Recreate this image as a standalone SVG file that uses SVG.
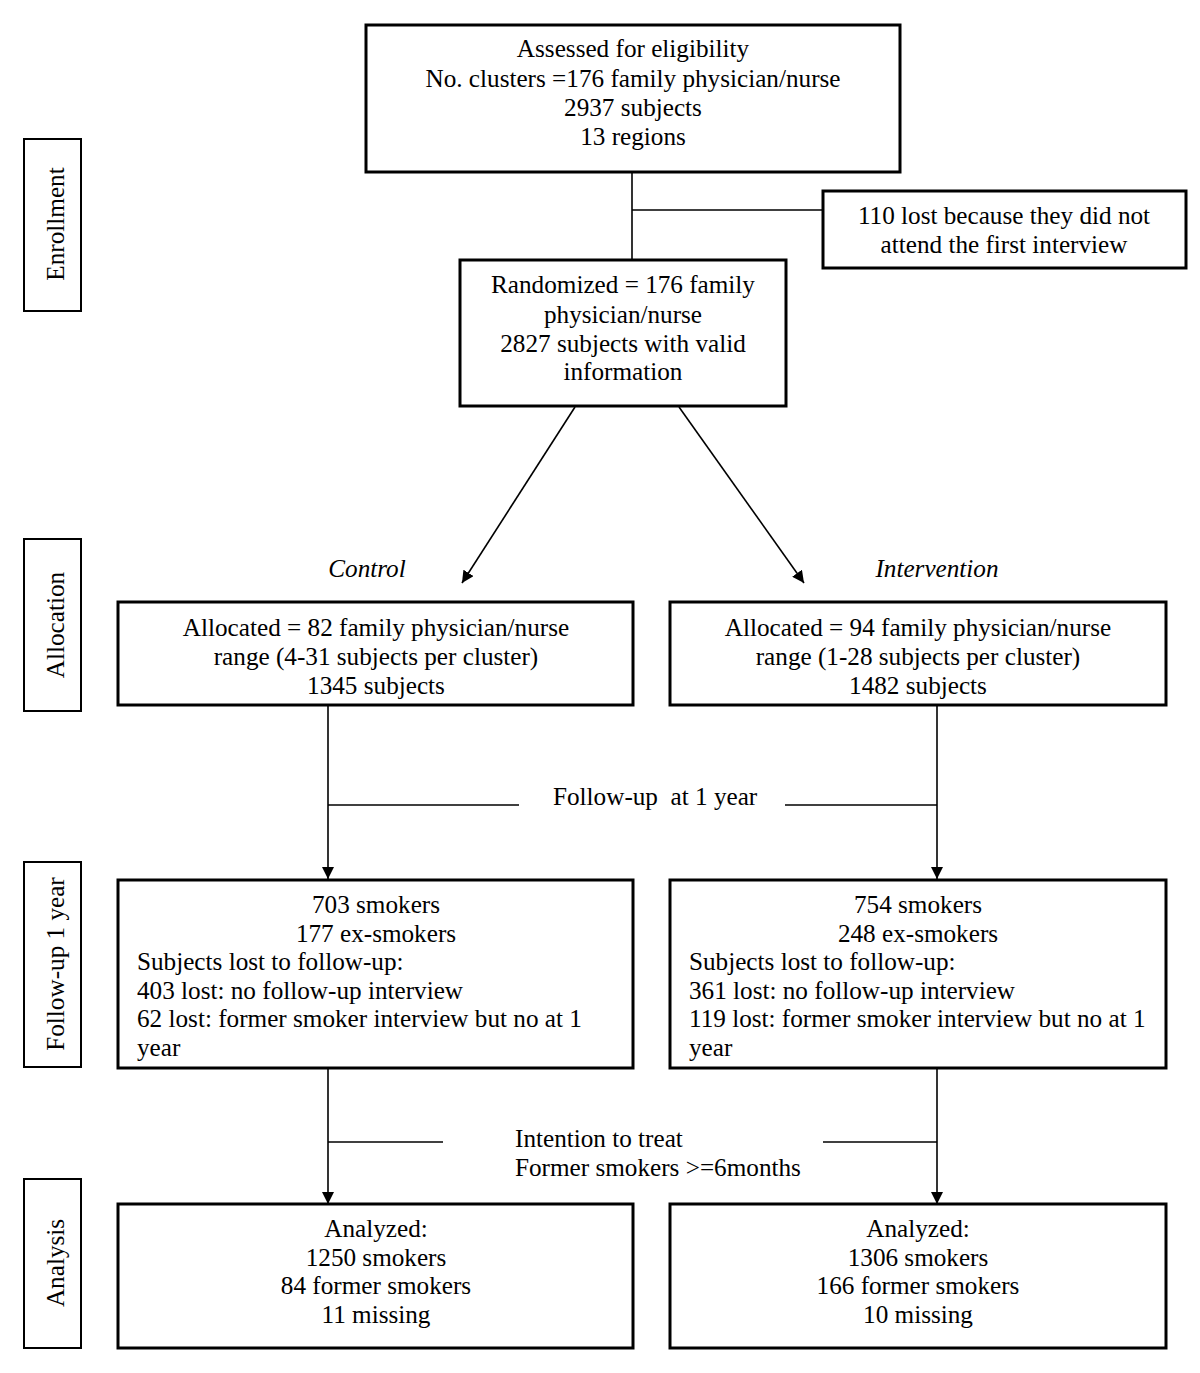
<svg xmlns="http://www.w3.org/2000/svg" width="1200" height="1373" viewBox="0 0 1200 1373">
<style>
text{font-family:"Liberation Serif","Times New Roman",serif;font-size:25.2px;fill:#000}
.c{text-anchor:middle}
.i{font-style:italic}
.box{fill:#fff;stroke:#000;stroke-width:3}
.lab{fill:#fff;stroke:#000;stroke-width:2}
.ln{stroke:#000;stroke-width:1.6;fill:none}
</style>
<defs>
<marker id="ah" viewBox="0 0 12 12" refX="12" refY="6" markerWidth="12" markerHeight="12" markerUnits="userSpaceOnUse" orient="auto">
<path d="M0,0 L12,6 L0,12 Z" fill="#000"/>
</marker>
</defs>
<rect width="1200" height="1373" fill="#fff"/>

<g id="connectors">
<line class="ln" x1="632" y1="172" x2="632" y2="260"/>
<line class="ln" x1="632" y1="210" x2="823" y2="210"/>
<line class="ln" x1="575" y1="407" x2="462" y2="583" marker-end="url(#ah)"/>
<line class="ln" x1="679" y1="407" x2="804" y2="583" marker-end="url(#ah)"/>
<line class="ln" x1="328" y1="706" x2="328" y2="879" marker-end="url(#ah)"/>
<line class="ln" x1="937" y1="706" x2="937" y2="879" marker-end="url(#ah)"/>
<line class="ln" x1="328" y1="805" x2="519" y2="805"/>
<line class="ln" x1="785" y1="805" x2="937" y2="805"/>
<line class="ln" x1="328" y1="1068" x2="328" y2="1204" marker-end="url(#ah)"/>
<line class="ln" x1="937" y1="1068" x2="937" y2="1204" marker-end="url(#ah)"/>
<line class="ln" x1="328" y1="1142" x2="443" y2="1142"/>
<line class="ln" x1="823" y1="1142" x2="937" y2="1142"/>
<text x="553" y="805" xml:space="preserve">Follow-up  at 1 year</text>
<text x="515" y="1147">Intention to treat</text>
<text x="515" y="1176">Former smokers &gt;=6months</text>
<text class="c i" x="367" y="577">Control</text>
<text class="c i" x="937" y="577">Intervention</text>
</g>

<g id="label-enrollment">
<rect class="lab" x="24" y="139" width="57" height="172"/>
<text class="c" transform="translate(64,224) rotate(-90)">Enrollment</text>
</g>
<g id="label-allocation">
<rect class="lab" x="24" y="539" width="57" height="172"/>
<text class="c" transform="translate(64,625) rotate(-90)">Allocation</text>
</g>
<g id="label-followup">
<rect class="lab" x="24" y="862" width="57" height="205"/>
<text class="c" transform="translate(64,964) rotate(-90)">Follow-up 1 year</text>
</g>
<g id="label-analysis">
<rect class="lab" x="24" y="1179" width="57" height="169"/>
<text class="c" transform="translate(64,1263) rotate(-90)">Analysis</text>
</g>

<g id="assessed">
<rect class="box" x="366" y="25" width="534" height="147"/>
<text class="c" x="633" y="57">Assessed for eligibility</text>
<text class="c" x="633" y="87">No. clusters =176 family physician/nurse</text>
<text class="c" x="633" y="116">2937 subjects</text>
<text class="c" x="633" y="145">13 regions</text>
</g>

<g id="lost">
<rect class="box" x="823" y="191" width="363" height="77"/>
<text class="c" x="1004" y="224">110 lost because they did not</text>
<text class="c" x="1004" y="253">attend the first interview</text>
</g>

<g id="randomized">
<rect class="box" x="460" y="260" width="326" height="146"/>
<text class="c" x="623" y="293">Randomized = 176 family</text>
<text class="c" x="623" y="323">physician/nurse</text>
<text class="c" x="623" y="352">2827 subjects with valid</text>
<text class="c" x="623" y="380">information</text>
</g>

<g id="alloc-control">
<rect class="box" x="118" y="602" width="515" height="103"/>
<text class="c" x="376" y="636">Allocated = 82 family physician/nurse</text>
<text class="c" x="376" y="665">range (4-31 subjects per cluster)</text>
<text class="c" x="376" y="694">1345 subjects</text>
</g>

<g id="alloc-intervention">
<rect class="box" x="670" y="602" width="496" height="103"/>
<text class="c" x="918" y="636">Allocated = 94 family physician/nurse</text>
<text class="c" x="918" y="665">range (1-28 subjects per cluster)</text>
<text class="c" x="918" y="694">1482 subjects</text>
</g>

<g id="followup-control">
<rect class="box" x="118" y="880" width="515" height="188"/>
<text class="c" x="376" y="913">703 smokers</text>
<text class="c" x="376" y="942">177 ex-smokers</text>
<text x="137" y="970">Subjects lost to follow-up:</text>
<text x="137" y="999">403 lost: no follow-up interview</text>
<text x="137" y="1027">62 lost: former smoker interview but no at 1</text>
<text x="137" y="1056">year</text>
</g>

<g id="followup-intervention">
<rect class="box" x="670" y="880" width="496" height="188"/>
<text class="c" x="918" y="913">754 smokers</text>
<text class="c" x="918" y="942">248 ex-smokers</text>
<text x="689" y="970">Subjects lost to follow-up:</text>
<text x="689" y="999">361 lost: no follow-up interview</text>
<text x="689" y="1027">119 lost: former smoker interview but no at 1</text>
<text x="689" y="1056">year</text>
</g>

<g id="analysis-control">
<rect class="box" x="118" y="1204" width="515" height="144"/>
<text class="c" x="376" y="1237">Analyzed:</text>
<text class="c" x="376" y="1266">1250 smokers</text>
<text class="c" x="376" y="1294">84 former smokers</text>
<text class="c" x="376" y="1323">11 missing</text>
</g>

<g id="analysis-intervention">
<rect class="box" x="670" y="1204" width="496" height="144"/>
<text class="c" x="918" y="1237">Analyzed:</text>
<text class="c" x="918" y="1266">1306 smokers</text>
<text class="c" x="918" y="1294">166 former smokers</text>
<text class="c" x="918" y="1323">10 missing</text>
</g>
</svg>
